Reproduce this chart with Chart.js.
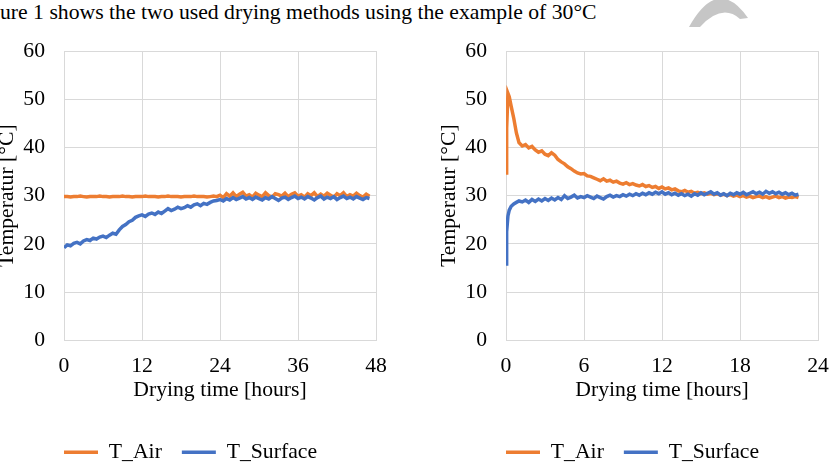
<!DOCTYPE html>
<html>
<head>
<meta charset="utf-8">
<script src="https://cdn.jsdelivr.net/npm/chart.js@4.4.1/dist/chart.umd.min.js"></script>
<style>
    html, body { margin: 0; padding: 0; background: #fff; }
    body { width: 833px; height: 470px; overflow: hidden; position: relative; }
    #caption {
        position: absolute; left: 0; top: 2px; white-space: nowrap;
        font: 21.7px/1 "Liberation Serif", "Times New Roman", serif; color: #000;
    }
    #mark { position: absolute; left: 0; top: 0; }
    canvas { position: absolute; top: 0; }
    #leftChart { left: -20px; }
    #rightChart { left: 422px; }
</style>
</head>
<body>
<div id="caption">ure 1 shows the two used drying methods using the example of 30°C</div>
<svg id="mark" width="833" height="40">
    <path d="M689,27 Q718,-25 748,18 L740,19 Q722,3 700,27 Z" fill="#c6c6c6"/>
</svg>
<canvas id="leftChart" width="442" height="540"></canvas>
<canvas id="rightChart" width="442" height="540"></canvas>
<script>
// left: convective drying, one value every 0.5 h
const leftStep = 0.5;
const leftAir = [
    29.8, 29.8, 29.7, 29.8, 29.8, 29.9, 29.8, 29.7, 29.8, 29.8,
    29.8, 29.9, 29.8, 29.8, 29.7, 29.8, 29.8, 29.8, 29.9, 29.8,
    29.8, 29.7, 29.8, 29.8, 29.8, 29.9, 29.8, 29.8, 29.8, 29.7,
    29.8, 29.8, 29.9, 29.8, 29.8, 29.8, 29.7, 29.8, 29.8, 29.8,
    29.9, 29.8, 29.8, 29.8, 29.7, 29.8, 29.9, 29.8,
    30.1, 29.6, 30.4, 29.9, 30.6, 29.8, 30.3, 30.7, 29.9, 30.2,
    29.7, 30.5, 30.1, 29.8, 30.6, 30.0, 29.7, 30.4, 30.2, 29.9,
    30.5, 29.8, 30.3, 30.6, 29.9, 30.2, 29.7, 30.4, 30.0, 30.6,
    29.8, 30.3, 29.9, 30.5, 30.1, 29.7, 30.4, 30.0, 30.6, 29.8,
    30.2, 29.9, 30.5, 30.0, 29.7, 30.3, 29.9
];
const leftSurface = [
    19.2, 19.8, 19.6, 20.1, 20.3, 20.0, 20.6, 20.9, 20.7, 21.2,
    21.0, 21.4, 21.6, 21.3, 21.8, 22.2, 22.0, 22.9, 23.6, 24.0,
    24.6, 24.9, 25.5, 25.8, 26.0, 25.7, 26.2, 26.4, 26.1, 26.6,
    26.3, 26.8, 27.3, 26.9, 27.2, 27.6, 27.3, 27.5, 27.9, 27.6,
    28.1, 28.3, 27.9, 28.4, 28.2, 28.6, 28.9, 29.0, 29.2, 28.9,
    29.4, 29.1, 29.6, 29.2, 29.5, 29.8, 29.3, 29.6, 29.2, 29.7,
    29.4, 29.1, 29.6, 29.3, 29.8, 29.4, 29.0, 29.5, 29.7, 29.2,
    29.6, 29.9, 29.4, 29.7, 29.3, 29.8, 29.5, 29.1, 29.6, 29.9,
    29.3, 29.7, 29.4, 29.8, 29.2, 29.6, 29.9, 29.4, 29.7, 29.3,
    29.8, 29.5, 29.2, 29.6, 29.4
];

// right: first hour sampled finer, then every 0.25 h
const rightHoursStart = [0, 0.05, 0.15, 0.25, 0.4, 0.6, 0.8, 1.0];
const rightStep = 0.25;
const rightAir = [
    34.7, 44.0, 51.2, 50.5, 48.5, 46.0, 43.0, 41.0,
    40.3, 40.6, 39.9, 40.2, 39.5, 39.0, 39.3, 38.6, 38.3, 38.9, 38.4, 37.5,
    37.0, 36.6, 36.0, 35.6, 35.1, 34.7, 34.5, 34.6, 34.1, 34.0, 33.7, 33.4, 33.1, 33.5, 33.0, 33.2,
    32.8, 33.0, 32.6, 32.4, 32.7, 32.3, 32.5, 32.2, 32.0, 32.3, 31.9, 32.1, 31.7, 31.9, 31.5, 31.8,
    31.4, 31.6, 31.2, 31.4, 31.0, 30.8, 31.1, 30.7, 30.9, 30.5, 30.7, 30.4, 30.6, 30.3, 30.5, 30.2,
    30.4, 30.1, 30.3, 30.0, 30.2, 29.9, 30.1, 29.8, 30.0, 29.7, 29.9, 29.6, 29.8, 29.9, 29.6, 29.8,
    29.5, 29.7, 29.9, 29.6, 29.8, 29.5, 29.7, 29.6, 29.8, 29.6
];
const rightSurface = [
    15.8, 22.5, 25.8, 27.0, 27.8, 28.3, 28.6, 28.9,
    28.7, 29.1, 28.6, 29.2, 28.8, 29.3, 28.9, 29.4, 29.0, 29.5, 29.1, 29.6,
    29.2, 30.0, 29.4, 29.7, 30.1, 29.5, 29.8, 29.6, 30.0, 29.7, 29.4, 29.9, 29.6, 29.3, 29.8, 30.1,
    29.7, 30.0, 29.8, 30.2, 29.9, 30.3, 30.0, 30.4, 30.1, 30.5, 30.2, 30.6, 30.3, 30.7, 30.4, 30.8,
    30.3, 30.6, 30.2, 30.5, 30.1, 30.4, 30.0, 30.3, 29.9, 30.4, 30.1, 30.6, 30.2, 30.5, 30.8, 30.3,
    30.6, 30.1, 30.4, 30.0, 30.5, 30.2, 30.6, 30.3, 30.7, 30.2, 30.5, 30.8, 30.4, 30.7, 30.3, 30.9,
    30.5, 30.8, 30.4, 30.7, 30.3, 30.6, 30.2, 30.5, 30.1, 30.3
];

const seriesNames = ['T_Air', 'T_Surface'];
const seriesColors = ['#ED7D31', '#4472C4'];
const yTitle = 'Temperatur [°C]';
const xTitle = 'Drying time [hours]';

const leftHours = leftAir.map((_, i) => i * leftStep);
const rightHours = rightHoursStart.concat(
    rightAir.slice(rightHoursStart.length).map((_, i) => 1 + (i + 1) * rightStep)
);

const FONT = { family: '"Liberation Serif", "Times New Roman", serif', size: 21.7, lineHeight: 1.2 };
const GRID = '#d9d9d9';

// legend starts at the plot's left edge like in the original
const legendShift = {
    id: 'legendShift',
    afterLayout(chart) {
        chart.legend.left -= 20;
        chart.legend.right -= 20;
    }
};

const toPoints = (hours, values) => values.map((v, i) => ({ x: hours[i], y: v }));

const makeChart = (id, hours, air, surface, xMax, xStep) => new Chart(document.getElementById(id), {
    type: 'line',
    data: {
        datasets: [
            {
                label: seriesNames[0],
                data: toPoints(hours, air),
                borderColor: seriesColors[0],
                backgroundColor: seriesColors[0],
                borderWidth: 3.5,
                pointRadius: 0,
                order: 2
            },
            {
                label: seriesNames[1],
                data: toPoints(hours, surface),
                borderColor: seriesColors[1],
                backgroundColor: seriesColors[1],
                borderWidth: 3.5,
                pointRadius: 0,
                order: 1
            }
        ]
    },
    options: {
        responsive: false,
        animation: false,
        layout: { padding: { top: 51, right: 46, left: 0, bottom: 67 } },
        scales: {
            x: {
                type: 'linear',
                min: 0,
                max: xMax,
                afterFit: s => { s.height = 81; },
                ticks: { stepSize: xStep, padding: 12.5, color: '#000', font: FONT },
                grid: { color: GRID, drawTicks: false },
                border: { color: GRID },
                title: { display: true, text: xTitle, color: '#000', font: FONT, padding: { top: 0, bottom: 17.6 } }
            },
            y: {
                min: 0,
                max: 60,
                afterFit: s => { s.width = 84; },
                ticks: { stepSize: 10, padding: 19, color: '#000', font: FONT },
                grid: { color: GRID, drawTicks: false },
                border: { color: GRID },
                title: { display: true, text: yTitle, color: '#000', font: FONT, padding: { top: 14, bottom: 0 } }
            }
        },
        plugins: {
            tooltip: { enabled: false },
            legend: {
                position: 'bottom',
                align: 'start',
                fullSize: false,
                labels: {
                    boxWidth: 34,
                    boxHeight: 0,
                    padding: 20,
                    color: '#000',
                    font: FONT,
                    sort: (a, b) => a.datasetIndex - b.datasetIndex
                }
            }
        }
    },
    plugins: [legendShift]
});

makeChart('leftChart', leftHours, leftAir, leftSurface, 48, 12);
makeChart('rightChart', rightHours, rightAir, rightSurface, 24, 6);
</script>
</body>
</html>
